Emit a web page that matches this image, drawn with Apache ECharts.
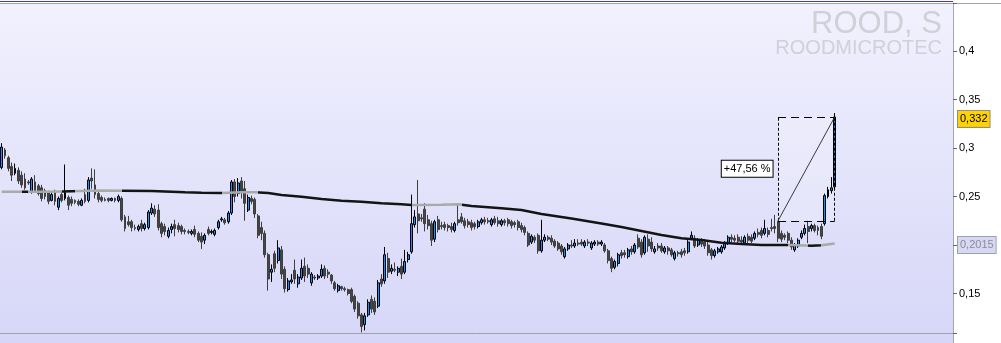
<!DOCTYPE html>
<html lang="en">
<head>
    <meta charset="utf-8">
    <title>ROOD, S</title>
    <script src="https://cdn.jsdelivr.net/npm/echarts@6/dist/echarts.min.js"></script>
    <style>
        html, body { margin: 0; padding: 0; background: #fff; }
        #container { width: 1001px; height: 343px; }
    </style>
</head>
<body>
<div id="container"></div>
<script type="text/javascript">
    // daily candles (index 0 = left edge)
    var opens = [
        .280,.298,.290,.281,.274,.277,.272,.268,.265,.255,
        .265,.261,.259,.256,.254,.246,.254,.239,.252,.248,
        .249,.247,.246,.245,.241,.252,.246,.269,.262,.253,
        .249,.247,.248,.246,.248,.246,.248,.229,.224,.224,
        .218,.216,.222,.217,.218,.233,.237,.236,.222,.219,
        .209,.216,.221,.220,.219,.215,.214,.212,.216,.212,
        .209,.205,.216,.213,.211,.218,.226,.226,.224,.233,
        .265,.253,.266,.258,.236,.248,.247,.230,.218,.212,
        .190,.172,.191,.184,.195,.175,.154,.162,.174,.160,
        .166,.178,.176,.161,.167,.166,.168,.176,.172,.169,
        .161,.153,.157,.155,.154,.154,.147,.140,.128,.118,
        .128,.144,.142,.137,.165,.163,.186,.173,.175,.172,
        .178,.172,.185,.193,.221,.232,.228,.237,.226,.222,
        .206,.226,.220,.221,.220,.219,.215,.226,.229,.225,
        .224,.223,.222,.219,.223,.226,.225,.221,.227,.225,
        .221,.225,.226,.224,.223,.224,.220,.218,.212,.203,
        .208,.210,.194,.205,.208,.207,.204,.202,.199,.188,
        .196,.200,.199,.202,.203,.199,.203,.197,.201,.203,
        .201,.200,.194,.186,.177,.181,.192,.192,.188,.196,
        .193,.207,.203,.192,.206,.203,.193,.199,.199,.193,
        .197,.195,.186,.192,.193,.194,.193,.207,.207,.200,
        .204,.203,.200,.195,.189,.193,.193,.197,.202,.208,
        .207,.208,.205,.202,.209,.208,.207,.213,.215,.212,
        .215,.218,.219,.224,.212,.210,.212,.205,.195,.199,
        .208,.212,.219,.217,.220,.218,.219,.222,.250,.256,
        .260
    ];
    var closes = [
        .301,.292,.279,.272,.279,.266,.262,.259,.264,.268,
        .256,.253,.248,.250,.245,.252,.245,.248,.246,.254,
        .241,.243,.244,.242,.246,.245,.267,.266,.252,.247,
        .246,.246,.246,.248,.246,.250,.226,.217,.221,.218,
        .217,.219,.217,.221,.234,.238,.232,.218,.212,.214,
        .215,.219,.217,.216,.214,.214,.213,.214,.211,.205,
        .203,.210,.212,.214,.215,.224,.227,.223,.233,.265,
        .250,.264,.255,.243,.249,.245,.232,.210,.212,.190,
        .165,.175,.176,.197,.170,.155,.163,.164,.165,.167,
        .176,.168,.170,.170,.166,.168,.175,.168,.170,.163,
        .155,.158,.155,.154,.150,.142,.134,.127,.116,.127,
        .141,.134,.131,.161,.160,.190,.172,.176,.174,.176,
        .170,.183,.190,.222,.229,.225,.227,.222,.220,.205,
        .224,.216,.219,.218,.218,.216,.222,.223,.224,.220,
        .221,.218,.219,.224,.226,.224,.224,.226,.223,.222,
        .225,.223,.222,.220,.221,.218,.216,.213,.200,.209,
        .205,.194,.205,.208,.206,.203,.199,.196,.193,.196,
        .200,.199,.202,.201,.201,.203,.202,.202,.203,.201,
        .203,.194,.184,.176,.183,.190,.189,.190,.195,.193,
        .200,.198,.190,.208,.199,.196,.196,.197,.194,.197,
        .194,.190,.192,.191,.190,.192,.203,.210,.199,.205,
        .201,.199,.192,.189,.194,.196,.198,.202,.208,.206,
        .205,.204,.203,.208,.205,.204,.212,.211,.210,.217,
        .211,.217,.217,.207,.206,.208,.205,.198,.200,.205,
        .212,.217,.214,.220,.215,.215,.209,.251,.257,.259,
        .332
    ];
    var lows = [
        .278,.289,.276,.266,.272,.263,.259,.257,.262,.253,
        .254,.251,.245,.247,.242,.245,.241,.236,.244,.246,
        .236,.240,.242,.240,.240,.243,.244,.258,.248,.244,
        .244,.245,.244,.245,.244,.244,.224,.214,.219,.214,
        .215,.214,.214,.215,.216,.231,.229,.215,.208,.210,
        .207,.212,.209,.213,.211,.211,.211,.210,.208,.203,
        .196,.201,.210,.211,.209,.216,.224,.221,.222,.231,
        .244,.250,.248,.225,.234,.242,.228,.207,.205,.187,
        .153,.162,.172,.181,.165,.151,.152,.160,.160,.156,
        .164,.162,.166,.158,.164,.164,.166,.165,.166,.160,
        .153,.151,.153,.152,.148,.140,.131,.124,.110,.112,
        .126,.130,.128,.135,.157,.160,.166,.170,.172,.168,
        .165,.170,.182,.191,.218,.212,.224,.214,.216,.199,
        .203,.213,.216,.215,.214,.213,.213,.220,.222,.217,
        .218,.215,.216,.217,.221,.221,.222,.219,.221,.219,
        .219,.220,.219,.217,.218,.215,.213,.210,.198,.201,
        .202,.191,.192,.203,.204,.200,.197,.194,.190,.186,
        .194,.197,.197,.199,.199,.197,.199,.195,.199,.199,
        .199,.192,.181,.172,.175,.178,.186,.187,.186,.190,
        .191,.196,.187,.190,.193,.193,.191,.194,.192,.191,
        .190,.188,.184,.188,.187,.189,.191,.205,.197,.198,
        .198,.196,.189,.185,.187,.191,.191,.195,.200,.203,
        .203,.202,.201,.200,.202,.202,.205,.208,.207,.210,
        .208,.214,.212,.203,.203,.205,.202,.195,.193,.197,
        .206,.210,.202,.214,.213,.210,.206,.220,.248,.253,
        .258
    ];
    var highs = [
        .305,.300,.292,.285,.284,.280,.276,.274,.267,.270,
        .272,.263,.262,.258,.256,.254,.257,.250,.255,.283,
        .251,.250,.247,.247,.248,.258,.270,.279,.278,.255,
        .251,.249,.249,.249,.249,.252,.250,.231,.230,.226,
        .221,.221,.226,.223,.236,.243,.241,.242,.224,.222,
        .218,.222,.226,.223,.221,.217,.216,.216,.220,.214,
        .213,.212,.219,.216,.217,.226,.229,.228,.235,.267,
        .268,.269,.270,.266,.252,.251,.249,.232,.224,.215,
        .192,.180,.194,.205,.199,.178,.166,.170,.185,.170,
        .185,.187,.180,.172,.169,.170,.180,.179,.175,.170,
        .163,.160,.158,.157,.155,.156,.149,.142,.130,.130,
        .144,.148,.146,.164,.170,.198,.192,.180,.182,.178,
        .186,.195,.193,.252,.236,.267,.232,.243,.231,.225,
        .226,.230,.224,.224,.222,.223,.224,.243,.233,.228,
        .227,.226,.224,.226,.228,.229,.228,.228,.230,.229,
        .227,.227,.228,.226,.225,.226,.223,.220,.214,.211,
        .210,.212,.226,.211,.210,.210,.206,.204,.201,.198,
        .202,.205,.206,.206,.206,.205,.206,.204,.205,.205,
        .205,.202,.196,.188,.185,.192,.195,.195,.197,.199,
        .202,.211,.206,.210,.211,.208,.199,.202,.202,.199,
        .199,.197,.194,.194,.196,.197,.205,.214,.210,.207,
        .207,.206,.203,.197,.196,.198,.200,.204,.210,.211,
        .210,.211,.209,.210,.212,.211,.214,.217,.218,.226,
        .218,.227,.231,.225,.215,.212,.214,.208,.202,.207,
        .215,.221,.225,.222,.222,.220,.222,.253,.260,.270,
        .336
    ];

    // moving average, read at these candle indices
    var maIdx = [0, 15, 30, 36, 45, 55, 60, 66, 72, 76, 80, 84, 90, 96, 102, 108, 114, 120, 123, 132,
        137, 141, 150, 156, 162, 171, 180, 186, 192, 198, 204, 210, 216, 222, 228, 237, 243, 246, 250];
    var maVal = [0.2550, 0.2550, 0.2562, 0.2560, 0.2557, 0.2543, 0.2539, 0.2536, 0.2543, 0.2545,
        0.2536, 0.2516, 0.2498, 0.2475, 0.2457, 0.2447, 0.2430, 0.2420, 0.2413, 0.2415,
        0.2420, 0.2402, 0.2379, 0.2361, 0.2320, 0.2273, 0.2222, 0.2186, 0.2145, 0.2103,
        0.2069, 0.2052, 0.2024, 0.2010, 0.2000, 0.2000, 0.1993, 0.1998, 0.2015];

    // measuring box: from candle 233 (0,225) to the last candle (0,332)
    var boxFrom = 233, boxTo = 250;
    var boxLow = 0.225, boxHigh = 0.332;
    var boxText = '+47,56 %';

    var totalSlots = 286;      // chart leaves empty room on the right
    var yMin = 0.1093, yMax = 0.4495;

    var GREY = '#a9a9a9', BLACK = '#141414';
    var FONT = 'Arial, "Liberation Sans", sans-serif';

    var cats = [];
    for (var i = 0; i < totalSlots; i++) cats.push(String(i));

    var ohlc = opens.map(function (o, k) {
        return [o, closes[k], lows[k], highs[k]];
    });
    var maData = maIdx.map(function (x, k) { return [x, maVal[k]]; });

    function comma(v) {
        return String(v).replace('.', ',');
    }

    var lastClose = closes[closes.length - 1];
    var lastMa = maVal[maVal.length - 1];

    var dom = document.getElementById('container');
    var myChart = echarts.init(dom, null, {renderer: 'canvas'});

    var option = {
        animation: false,
        backgroundColor: '#ffffff',
        graphic: [
            {
                type: 'rect', z: -10, silent: true,
                shape: {x: 0, y: 4, width: 953, height: 339},
                style: {
                    fill: new echarts.graphic.LinearGradient(0, 0, 0, 1, [
                        {offset: 0, color: '#f1f1fe'},
                        {offset: 1, color: '#d6d6f8'}
                    ])
                }
            },
            {type: 'rect', silent: true, shape: {x: 0, y: 1, width: 953, height: 1}, style: {fill: '#3838d4'}},
            {type: 'rect', silent: true, shape: {x: 0, y: 3, width: 1001, height: 1}, style: {fill: '#a4a4a4'}},
            {type: 'rect', silent: true, shape: {x: 953, y: 333, width: 1, height: 10}, style: {fill: '#a0a8b4'}},
            {
                type: 'text', silent: true,
                style: {x: 942, y: 24, text: 'ROOD, S', align: 'right', verticalAlign: 'middle',
                    font: '31px ' + FONT, fill: '#d0d0d6'}
            },
            {
                type: 'text', silent: true,
                style: {x: 942, y: 48.5, text: 'ROODMICROTEC', align: 'right', verticalAlign: 'middle',
                    font: '20px ' + FONT, fill: '#d0d0d6'}
            }
        ],
        grid: {left: 0, right: 48, top: 3, bottom: 10},
        xAxis: {
            type: 'category',
            data: cats,
            boundaryGap: true,
            axisLine: {show: true, lineStyle: {color: '#9aa2ac', width: 1}},
            axisTick: {show: false},
            axisLabel: {show: false},
            splitLine: {show: false}
        },
        yAxis: {
            type: 'value',
            position: 'right',
            min: yMin,
            max: yMax,
            axisLine: {show: true, lineStyle: {color: '#a0a8b4'}},
            axisTick: {show: true, length: 4, lineStyle: {color: '#666'}},
            splitLine: {show: false},
            axisLabel: {
                margin: 6,
                color: '#000',
                fontSize: 11,
                fontFamily: FONT,
                formatter: function (v) {
                    var r = Math.round(v / 0.05);
                    if (Math.abs(v - r * 0.05) > 1e-6) return '';
                    return comma(+v.toFixed(2));
                }
            }
        },
        visualMap: {
            type: 'piecewise',
            show: false,
            seriesIndex: 1,
            dimension: 0,
            pieces: [
                {lt: 6, color: GREY},
                {gte: 6, lt: 7.5, color: BLACK},
                {gte: 7.5, lt: 18, color: GREY},
                {gte: 18, lt: 22, color: BLACK},
                {gte: 22, lt: 36, color: GREY},
                {gte: 36, lt: 66, color: BLACK},
                {gte: 66, lt: 77, color: GREY},
                {gte: 77, lt: 123, color: BLACK},
                {gte: 123, lt: 138, color: GREY},
                {gte: 138, lt: 236, color: BLACK},
                {gte: 236, lt: 242, color: GREY},
                {gte: 242, lt: 246, color: BLACK},
                {gte: 246, color: GREY}
            ]
        },
        series: [
            {
                type: 'candlestick',
                data: ohlc,
                barWidth: 2.4,
                itemStyle: {
                    color: '#1e8cff',
                    color0: '#464646',
                    borderColor: '#000000',
                    borderColor0: '#3e3e3e',
                    borderWidth: 1
                },
                markArea: {
                    silent: true,
                    itemStyle: {color: 'rgba(255,255,255,0.18)', borderWidth: 0},
                    data: [[{coord: [boxFrom, boxHigh]}, {coord: [boxTo, boxLow]}]]
                },
                markLine: {
                    silent: true,
                    symbol: ['none', 'none'],
                    label: {show: false},
                    data: [
                        [{coord: [boxFrom, boxHigh], lineStyle: {color: '#000', width: 1, type: [8, 5]}}, {coord: [boxTo, boxHigh]}],
                        [{coord: [boxFrom, boxLow], lineStyle: {color: '#000', width: 1, type: [8, 5]}}, {coord: [boxTo, boxLow]}],
                        [{coord: [boxFrom, boxLow], lineStyle: {color: '#000', width: 1, type: [3, 2]}}, {coord: [boxFrom, boxHigh]}],
                        [{coord: [boxTo, boxLow], lineStyle: {color: '#000', width: 1, type: [3, 2]}}, {coord: [boxTo, boxHigh]}],
                        [{coord: [boxFrom, boxLow], lineStyle: {color: '#3a3a3a', width: 1, type: 'solid'}}, {coord: [boxTo, boxHigh]}]
                    ]
                },
                markPoint: {
                    silent: true,
                    symbol: 'rect',
                    symbolSize: 1,
                    itemStyle: {color: 'rgba(0,0,0,0)'},
                    data: [{
                        coord: [boxFrom, (boxLow + boxHigh) / 2],
                        label: {
                            show: true, position: 'left', distance: 5,
                            formatter: boxText,
                            color: '#000', fontSize: 11, lineHeight: 13,
                            fontFamily: FONT,
                            backgroundColor: '#ffffff', borderColor: '#000', borderWidth: 1,
                            padding: [2, 2, 1, 2]
                        }
                    }]
                }
            },
            {
                type: 'line',
                data: maData,
                symbol: 'none',
                smooth: false,
                z: 3,
                lineStyle: {width: 2.5}
            },
            {
                // price tags on the right axis
                type: 'line',
                data: [],
                silent: true,
                z: 5,
                markLine: {
                    silent: true,
                    symbol: ['none', 'none'],
                    lineStyle: {color: 'rgba(0,0,0,0)', width: 1, type: 'solid'},
                    data: [
                        {
                            yAxis: lastClose,
                            label: {
                                show: true, position: 'end', distance: 5,
                                formatter: comma(lastClose),
                                color: '#000', fontSize: 11, lineHeight: 12,
                                fontFamily: FONT,
                                backgroundColor: '#ffd200', borderColor: '#8c8c8c', borderWidth: 1,
                                padding: [2, 2, 2, 2]
                            }
                        },
                        {
                            yAxis: lastMa,
                            label: {
                                show: true, position: 'end', distance: 5,
                                formatter: comma(lastMa),
                                color: '#8a8aa2', fontSize: 11, lineHeight: 12,
                                fontFamily: FONT,
                                backgroundColor: '#d8d8f0', borderColor: '#9ca2b2', borderWidth: 1,
                                padding: [2, 2, 2, 2]
                            }
                        }
                    ]
                }
            }
        ]
    };

    myChart.setOption(option);
    window.addEventListener('resize', myChart.resize);
</script>
</body>
</html>
